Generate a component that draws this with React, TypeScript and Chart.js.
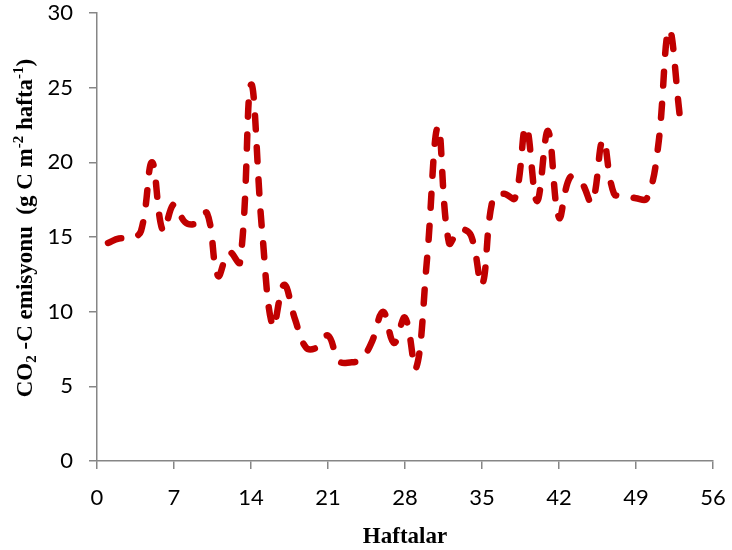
import React, { useEffect, useRef } from "react";
import { Chart, registerables } from "chart.js";

Chart.register(...registerables);

const weeks: number[] = Array.from({ length: 53 }, (_, i) => i + 1);
const emission: number[] = [
  14.6, 14.9, 14.9, 15.4, 20.0, 15.4, 17.2, 16.0, 15.9, 16.6,
  12.4, 14.0, 13.3, 25.2, 15.5, 9.0, 11.8, 9.5, 7.6, 7.6,
  8.4, 6.7, 6.6, 6.8, 8.0, 10.0, 7.9, 9.6, 6.2, 13.5,
  22.4, 14.6, 15.5, 15.1, 11.8, 17.6, 17.9, 17.6, 22.4, 17.4,
  22.1, 16.3, 19.0, 18.7, 17.3, 21.5, 17.9, 17.8, 17.6, 17.6,
  21.0, 28.9, 23.0,
];
const xTicks: number[] = [0, 7, 14, 21, 28, 35, 42, 49, 56];
const yTicks: number[] = [0, 5, 10, 15, 20, 25, 30];
const xTitle = "Haftalar";

const AXIS = "#868686";
const SERIF = "'Liberation Serif', 'DejaVu Serif', serif";
const SANS = "Lato, 'Open Sans', sans-serif";

const titlePlugin = {
  id: "customTitles",
  afterDraw(chart: any) {
    const ctx = chart.ctx as CanvasRenderingContext2D;
    const area = chart.chartArea;
    ctx.save();
    ctx.fillStyle = "#000";
    ctx.font = `bold 23px ${SERIF}`;
    ctx.textAlign = "center";
    ctx.textBaseline = "alphabetic";
    ctx.fillText(xTitle, (area.left + area.right) / 2, 543);
    const big = `bold 23px ${SERIF}`;
    const small = `bold 15px ${SERIF}`;
    const segs: { t: string; f: string; dy: number }[] = [
      { t: "CO", f: big, dy: 0 },
      { t: "2", f: small, dy: 4 },
      { t: " -C emisyonu  (g C m", f: big, dy: 0 },
      { t: "-2", f: small, dy: -9 },
      { t: " hafta", f: big, dy: 0 },
      { t: "-1", f: small, dy: -9 },
      { t: ")", f: big, dy: 0 },
    ];
    let total = 0;
    for (const s of segs) {
      ctx.font = s.f;
      total += ctx.measureText(s.t).width;
    }
    ctx.translate(32, 228);
    ctx.rotate(-Math.PI / 2);
    ctx.textAlign = "left";
    let x = -total / 2;
    for (const s of segs) {
      ctx.font = s.f;
      ctx.fillText(s.t, x, s.dy);
      x += ctx.measureText(s.t).width;
    }
    ctx.restore();
  },
};

export default function App() {
  const ref = useRef<HTMLCanvasElement | null>(null);
  useEffect(() => {
    document.body.style.margin = "0";
    const canvas = ref.current!;
    const chart = new Chart(canvas, {
      type: "line",
      data: {
        datasets: [
          {
            data: weeks.map((w, i) => ({ x: w, y: emission[i] })),
            borderColor: "#C00000",
            borderWidth: 6.5,
            borderDash: [14, 18],
            borderCapStyle: "round",
            borderJoinStyle: "round",
            pointRadius: 0,
            tension: 0.4,
            fill: false,
          },
        ],
      },
      options: {
        animation: false,
        responsive: false,
        events: [],
        layout: { padding: { left: 0, right: 19, top: 13, bottom: 0 } },
        plugins: { legend: { display: false }, tooltip: { enabled: false } },
        scales: {
          x: {
            type: "linear",
            min: 0,
            max: 56,
            afterBuildTicks: (s: any) => {
              s.ticks = xTicks.map((v) => ({ value: v }));
            },
            afterFit: (s: any) => {
              s.height = 89;
              s.paddingLeft = 0;
              s.paddingRight = 0;
            },
            grid: {
              drawOnChartArea: false,
              drawTicks: true,
              tickLength: 8,
              color: AXIS,
              tickColor: AXIS,
              lineWidth: 1.5,
            },
            border: { display: true, color: AXIS, width: 1.5 },
            ticks: {
              color: "#000",
              font: { family: SANS, size: 22 },
              padding: 16,
              maxRotation: 0,
              autoSkip: false,
            },
          },
          y: {
            min: 0,
            max: 30,
            afterBuildTicks: (s: any) => {
              s.ticks = yTicks.map((v) => ({ value: v }));
            },
            afterFit: (s: any) => {
              s.width = 97;
              s.paddingTop = 0;
              s.paddingBottom = 0;
            },
            grid: {
              drawOnChartArea: false,
              drawTicks: true,
              tickLength: 8,
              color: AXIS,
              tickColor: AXIS,
              lineWidth: 1.5,
            },
            border: { display: true, color: AXIS, width: 1.5 },
            ticks: {
              color: "#000",
              font: { family: SANS, size: 22 },
              padding: 16,
            },
          },
        },
      },
      plugins: [titlePlugin],
    });
    return () => chart.destroy();
  }, []);
  return <canvas ref={ref} width={732} height={550} style={{ display: "block" }} />;
}
